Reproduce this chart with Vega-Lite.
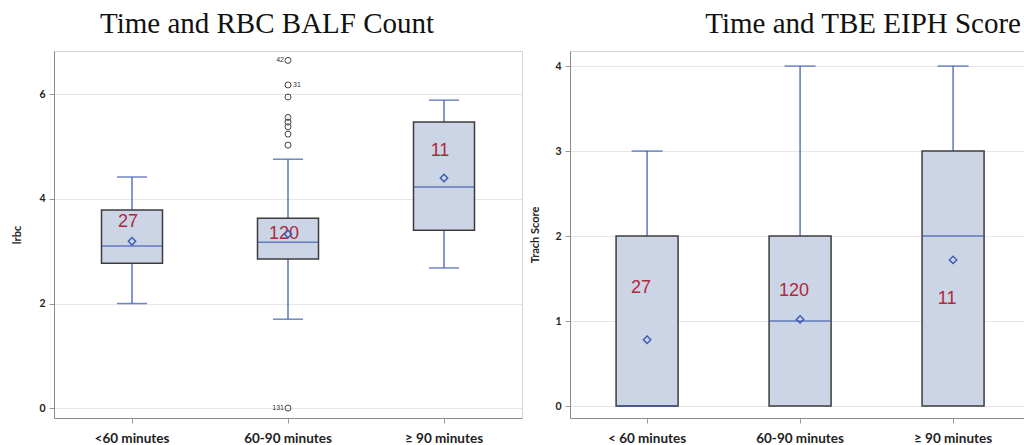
{
  "$schema": "https://vega.github.io/schema/vega-lite/v6.json",
  "background": "white",
  "padding": {"left": 11, "top": 9, "right": 0, "bottom": 0},
  "spacing": 6,
  "datasets": {
    "rbc": [
      {"group": "<60 minutes", "min": 2.0, "q1": 2.77, "median": 3.10, "q3": 3.79, "max": 4.42, "mean": 3.19, "n": "27", "label_y": 3.56},
      {"group": "60-90 minutes", "min": 1.70, "q1": 2.85, "median": 3.17, "q3": 3.63, "max": 4.76, "mean": 3.33, "n": "120", "label_y": 3.33},
      {"group": "≥ 90 minutes", "min": 2.68, "q1": 3.40, "median": 4.23, "q3": 5.47, "max": 5.89, "mean": 4.40, "n": "11", "label_y": 4.91}
    ],
    "rbc_out": [
      {"group": "60-90 minutes", "value": 6.65, "id": "42"},
      {"group": "60-90 minutes", "value": 6.18, "id": "31"},
      {"group": "60-90 minutes", "value": 5.95, "id": ""},
      {"group": "60-90 minutes", "value": 5.56, "id": ""},
      {"group": "60-90 minutes", "value": 5.47, "id": ""},
      {"group": "60-90 minutes", "value": 5.38, "id": ""},
      {"group": "60-90 minutes", "value": 5.24, "id": ""},
      {"group": "60-90 minutes", "value": 5.03, "id": ""},
      {"group": "60-90 minutes", "value": 0.0, "id": "131"}
    ],
    "tbe": [
      {"group": "< 60 minutes", "min": 0, "q1": 0, "median": 0, "q3": 2, "max": 3, "mean": 0.78, "n": "27", "label_y": 1.39},
      {"group": "60-90 minutes", "min": 0, "q1": 0, "median": 1, "q3": 2, "max": 4, "mean": 1.02, "n": "120", "label_y": 1.35},
      {"group": "≥ 90 minutes", "min": 0, "q1": 0, "median": 2, "q3": 3, "max": 4, "mean": 1.72, "n": "11", "label_y": 1.26}
    ]
  },
  "config": {
    "view": {"stroke": "#d4d4d4", "strokeWidth": 1},
    "axis": {
      "labelFont": "Lato",
      "labelFontWeight": "bold",
      "labelColor": "#222222",
      "titleFont": "Lato",
      "titleFontWeight": "bold",
      "titleFontSize": 11,
      "titleColor": "#222222",
      "domainColor": "#8a8a8a",
      "tickColor": "#9a9a9a",
      "tickSize": 5,
      "gridColor": "#e6e6e6"
    },
    "axisX": {"labelFontSize": 13.5, "labelPadding": 8, "labelAngle": 0, "grid": false, "title": null},
    "axisY": {"labelFontSize": 10.5, "labelPadding": 4, "grid": true, "format": "d"},
    "title": {"font": "Liberation Serif", "fontSize": 29, "fontWeight": "normal", "color": "#111111"}
  },
  "resolve": {"scale": {"x": "independent", "y": "independent"}},
  "hconcat": [
    {
      "width": 468,
      "height": 367,
      "title": {"text": "Time and RBC BALF Count", "anchor": "middle", "frame": "group", "dx": -21, "offset": 12},
      "data": {"name": "rbc"},
      "encoding": {
        "x": {
          "field": "group", "type": "nominal",
          "sort": ["<60 minutes", "60-90 minutes", "≥ 90 minutes"],
          "scale": {"paddingInner": 0.2, "paddingOuter": 0.1},
          "axis": {"title": null}
        }
      },
      "layer": [
        {
          "mark": {"type": "rule", "color": "#4262b5", "strokeWidth": 1.3},
          "encoding": {
            "y": {"field": "min", "type": "quantitative", "title": "lrbc",
                  "scale": {"domain": [-0.19, 6.83], "nice": false, "zero": false},
                  "axis": {"values": [0, 2, 4, 6], "titlePadding": 16}},
            "y2": {"field": "max"}
          }
        },
        {
          "mark": {"type": "bar", "size": 61, "fill": "#cbd5e6", "stroke": "#3c3c3c", "strokeWidth": 1.5},
          "encoding": {
            "y": {"field": "q1", "type": "quantitative", "title": "lrbc"},
            "y2": {"field": "q3"}
          }
        },
        {
          "mark": {"type": "tick", "size": 60, "thickness": 1.5, "color": "#3352ae"},
          "encoding": {"y": {"field": "median", "type": "quantitative", "title": "lrbc"}}
        },
        {
          "mark": {"type": "tick", "size": 30, "thickness": 1.5, "color": "#3352ae"},
          "encoding": {"y": {"field": "min", "type": "quantitative", "title": "lrbc"}}
        },
        {
          "mark": {"type": "tick", "size": 30, "thickness": 1.5, "color": "#3352ae"},
          "encoding": {"y": {"field": "max", "type": "quantitative", "title": "lrbc"}}
        },
        {
          "mark": {"type": "text", "font": "Liberation Sans", "fontSize": 18, "color": "#b0283c", "baseline": "middle", "align": "center", "dx": -4},
          "encoding": {
            "y": {"field": "label_y", "type": "quantitative", "title": "lrbc"},
            "text": {"field": "n"}
          }
        },
        {
          "mark": {"type": "point", "shape": "diamond", "filled": false, "size": 55, "color": "#3a58b8", "strokeWidth": 1.4, "opacity": 1},
          "encoding": {"y": {"field": "mean", "type": "quantitative", "title": "lrbc"}}
        },
        {
          "data": {"name": "rbc_out"},
          "mark": {"type": "point", "shape": "circle", "filled": false, "size": 36, "color": "#444444", "strokeWidth": 1, "opacity": 1},
          "encoding": {"y": {"field": "value", "type": "quantitative", "title": "lrbc"}}
        },
        {
          "data": {"name": "rbc_out"},
          "transform": [{"filter": "datum.id == '31'"}],
          "mark": {"type": "text", "font": "Liberation Sans", "fontSize": 7, "color": "#333333", "align": "left", "baseline": "middle", "dx": 5},
          "encoding": {"y": {"field": "value", "type": "quantitative", "title": "lrbc"}, "text": {"field": "id"}}
        },
        {
          "data": {"name": "rbc_out"},
          "transform": [{"filter": "datum.id == '42' || datum.id == '131'"}],
          "mark": {"type": "text", "font": "Liberation Sans", "fontSize": 7, "color": "#333333", "align": "right", "baseline": "middle", "dx": -4},
          "encoding": {"y": {"field": "value", "type": "quantitative", "title": "lrbc"}, "text": {"field": "id"}}
        }
      ]
    },
    {
      "width": 454,
      "height": 367,
      "title": {"text": "Time and TBE EIPH Score", "anchor": "end", "frame": "group", "offset": 12, "dx": -3},
      "data": {"name": "tbe"},
      "encoding": {
        "x": {
          "field": "group", "type": "nominal",
          "sort": ["< 60 minutes", "60-90 minutes", "≥ 90 minutes"],
          "scale": {"paddingInner": 0.2, "paddingOuter": 0.0837, "align": 0.62},
          "axis": {"title": null}
        }
      },
      "layer": [
        {
          "mark": {"type": "rule", "color": "#4262b5", "strokeWidth": 1.3},
          "encoding": {
            "y": {"field": "min", "type": "quantitative", "title": "Trach Score",
                  "scale": {"domain": [-0.14, 4.177], "nice": false, "zero": false},
                  "axis": {"values": [0, 1, 2, 3, 4], "titlePadding": 14}},
            "y2": {"field": "max"}
          }
        },
        {
          "mark": {"type": "bar", "size": 62, "fill": "#cbd5e6", "stroke": "#3c3c3c", "strokeWidth": 1.5},
          "encoding": {
            "y": {"field": "q1", "type": "quantitative", "title": "Trach Score"},
            "y2": {"field": "q3"}
          }
        },
        {
          "mark": {"type": "tick", "size": 61, "thickness": 1.5, "color": "#3352ae"},
          "encoding": {"y": {"field": "median", "type": "quantitative", "title": "Trach Score"}}
        },
        {
          "mark": {"type": "tick", "size": 31, "thickness": 1.5, "color": "#3352ae"},
          "encoding": {"y": {"field": "max", "type": "quantitative", "title": "Trach Score"}}
        },
        {
          "mark": {"type": "text", "font": "Liberation Sans", "fontSize": 18, "color": "#b0283c", "baseline": "middle", "align": "center", "dx": -6},
          "encoding": {
            "y": {"field": "label_y", "type": "quantitative", "title": "Trach Score"},
            "text": {"field": "n"}
          }
        },
        {
          "mark": {"type": "point", "shape": "diamond", "filled": false, "size": 55, "color": "#3a58b8", "strokeWidth": 1.4, "opacity": 1},
          "encoding": {"y": {"field": "mean", "type": "quantitative", "title": "Trach Score"}}
        }
      ]
    }
  ]
}
